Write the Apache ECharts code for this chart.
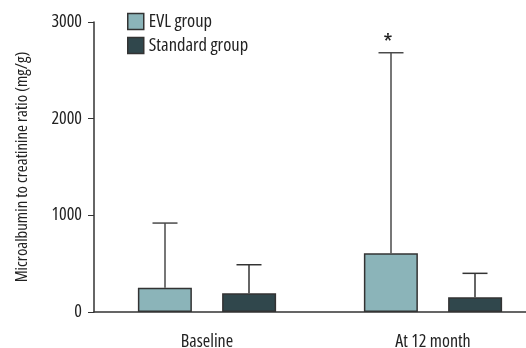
<!DOCTYPE html>
<html>
<head>
<meta charset="utf-8">
<script src="https://cdn.jsdelivr.net/npm/echarts@6/dist/echarts.min.js"></script>
<style>html,body{margin:0;padding:0;background:#fff}#c{width:526px;height:348px}</style>
</head>
<body>
<div id="c"></div>
<script>
var categories = ['Baseline', 'At 12 month'];
var seriesNames = ['EVL group', 'Standard group'];
var evlMean = [250, 607];
var evlSD = [920, 2682];
var stdMean = [195, 152];
var stdSD = [489, 400];
var evlMarks = ['', '*'];
var stdMarks = ['', ''];
var yTicks = [0, 1000, 2000, 3000];

var FONT = '"Open Sans", sans-serif';
var FW = 'condensed';
var chart = echarts.init(document.getElementById('c'));

function errSeries(name, means, tops, marks, offset, color) {
  var data = means.map(function (m, i) { return [i, m, tops[i], marks[i]]; });
  return {
    type: 'custom',
    name: name + ' err',
    z: 1,
    data: data,
    renderItem: function (params, api) {
      var i = api.value(0);
      var base = api.coord([i, api.value(1)]);
      var top = api.coord([i, api.value(2)]);
      var x = base[0] + offset;
      var children = [
        { type: 'line', shape: { x1: x, y1: base[1], x2: x, y2: top[1] }, style: { stroke: color, lineWidth: 1.5 } },
        { type: 'line', shape: { x1: x - 12.5, y1: top[1], x2: x + 12.5, y2: top[1] }, style: { stroke: color, lineWidth: 1.5 } }
      ];
      var mk = marks[i];
      if (mk) {
        children.push({ type: 'text', style: { text: mk, x: x - 3, y: top[1] + 3, textAlign: 'center', textVerticalAlign: 'bottom', fontFamily: FONT, fontWeight: FW, fontSize: 24, fill: '#222' } });
      }
      return { type: 'group', children: children };
    }
  };
}

chart.setOption({
  animation: false,
  backgroundColor: '#fff',
  grid: { left: 94, top: 22, bottom: 36, width: 452, outerBoundsMode: 'none', containLabel: false },
  legend: {
    orient: 'vertical', left: 122, top: 7, itemWidth: 16, itemHeight: 16, itemGap: 5, icon: 'rect',
    data: seriesNames,
    itemStyle: { borderColor: '#333', borderWidth: 1.5 },
    textStyle: { fontFamily: FONT, fontWeight: FW, fontSize: 18.5, color: '#222' }
  },
  xAxis: {
    type: 'category', data: categories,
    axisLine: { lineStyle: { color: '#333', width: 1.5 } },
    axisTick: { alignWithLabel: true, length: 5, lineStyle: { color: '#333', width: 1 } },
    axisLabel: { fontFamily: FONT, fontWeight: FW, fontSize: 18, color: '#222', margin: 21 }
  },
  yAxis: {
    type: 'value', min: yTicks[0], max: yTicks[yTicks.length - 1], interval: 1000,
    name: 'Microalbumin to creatinine ratio (mg/g)', nameLocation: 'middle', nameGap: 63,
    nameTextStyle: { fontFamily: FONT, fontWeight: FW, fontSize: 16.8, color: '#222' },
    axisLine: { show: true, lineStyle: { color: '#333', width: 1.5 } },
    axisTick: { show: true, length: 6, lineStyle: { color: '#333', width: 1 } },
    axisLabel: { fontFamily: FONT, fontWeight: FW, fontSize: 18, color: '#222', margin: 12, formatter: function (v) { return String(v); } },
    splitLine: { show: false }
  },
  series: [
    { type: 'bar', name: seriesNames[0], data: evlMean, barWidth: 54, barGap: '56%', z: 2,
      itemStyle: { color: '#8bb4b9', borderColor: '#333', borderWidth: 1.5 } },
    { type: 'bar', name: seriesNames[1], data: stdMean, barWidth: 54, z: 2,
      itemStyle: { color: '#30474c', borderColor: '#333', borderWidth: 1.5 } },
    errSeries(seriesNames[0], evlMean, evlSD, evlMarks, -42, '#4a4a4a'),
    errSeries(seriesNames[1], stdMean, stdSD, stdMarks, 42, '#333')
  ]
});
</script>
</body>
</html>
